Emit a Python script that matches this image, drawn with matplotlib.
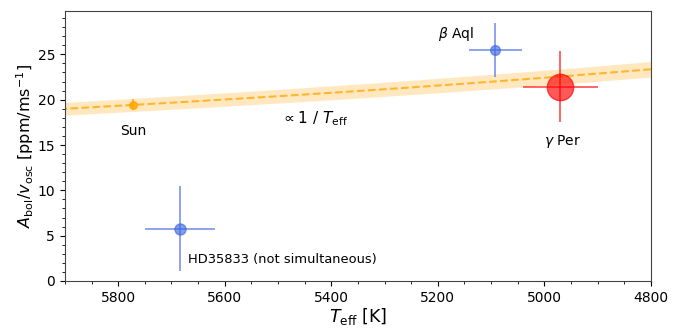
import numpy as np
import matplotlib.pyplot as plt
from matplotlib.ticker import MultipleLocator

# stars: Teff [K], Abol/vosc [ppm/(m/s)]
names = ["Sun", "beta Aql", "gamma Per", "HD35833"]
teff = [5772, 5092, 4970, 5684]
teff_err = [0, 50, 70, 65]
amp = [19.45, 25.5, 21.45, 5.75]
amp_err = [0.6, 3.0, 3.9, 4.7]

# 1/Teff scaling: A = C / Teff
fit_c = 112100.0
fit_c_err = 4150.0

fig, ax = plt.subplots(figsize=(6.83, 3.29), dpi=100)
fig.subplots_adjust(left=0.095, right=0.953, bottom=0.146, top=0.967)

# band + dashed line
tt = np.linspace(4800, 5900, 200)
ax.fill_between(tt, (fit_c - fit_c_err) / tt, (fit_c + fit_c_err) / tt,
                color="orange", alpha=0.25, lw=0)
ax.plot(tt, fit_c / tt, "--", color="orange", alpha=0.75, lw=1.5)

# Sun
ax.errorbar(teff[0], amp[0], yerr=amp_err[0], fmt="o", color="orange",
            ms=5.5, alpha=0.8, elinewidth=1.3)
# beta Aql
ax.errorbar(teff[1], amp[1], xerr=teff_err[1], yerr=amp_err[1], fmt="o",
            color="royalblue", ms=7, alpha=0.65, elinewidth=1.3)
# gamma Per
ax.errorbar(teff[2], amp[2], xerr=teff_err[2], yerr=amp_err[2], fmt="o",
            color="red", ms=19, alpha=0.65, elinewidth=1.3)
# HD35833
ax.errorbar(teff[3], amp[3], xerr=teff_err[3], yerr=amp_err[3], fmt="o",
            color="royalblue", ms=8, alpha=0.65, elinewidth=1.3)

ax.text(5772, 16.5, "Sun", ha="center", va="center", fontsize=10)
ax.text(5495, 17.9, r"$\propto 1\ /\ T_{\rm eff}$", ha="left", va="center", fontsize=11)
ax.text(5200, 27.3, r"$\beta$ Aql", ha="left", va="center", fontsize=10)
ax.text(5000, 15.4, r"$\gamma$ Per", ha="left", va="center", fontsize=10)
ax.text(5669, 2.4, "HD35833 (not simultaneous)", ha="left", va="center", fontsize=9.4)

ax.set_xlim(5900, 4800)
ax.set_ylim(0, 29.8)
ax.xaxis.set_major_locator(MultipleLocator(200))
ax.xaxis.set_minor_locator(MultipleLocator(50))
ax.yaxis.set_major_locator(MultipleLocator(5))
ax.yaxis.set_minor_locator(MultipleLocator(1))
ax.tick_params(labelsize=10)
for s in ax.spines.values():
    s.set_color("#444444")

ax.set_xlabel(r"$T_{\rm eff}$ [K]", fontsize=12.5, labelpad=1)
ax.set_ylabel(r"$A_{\rm bol}/v_{\rm osc}$ [ppm/ms$^{-1}$]", fontsize=11.5, labelpad=1)

fig.savefig("out.png", dpi=100)
